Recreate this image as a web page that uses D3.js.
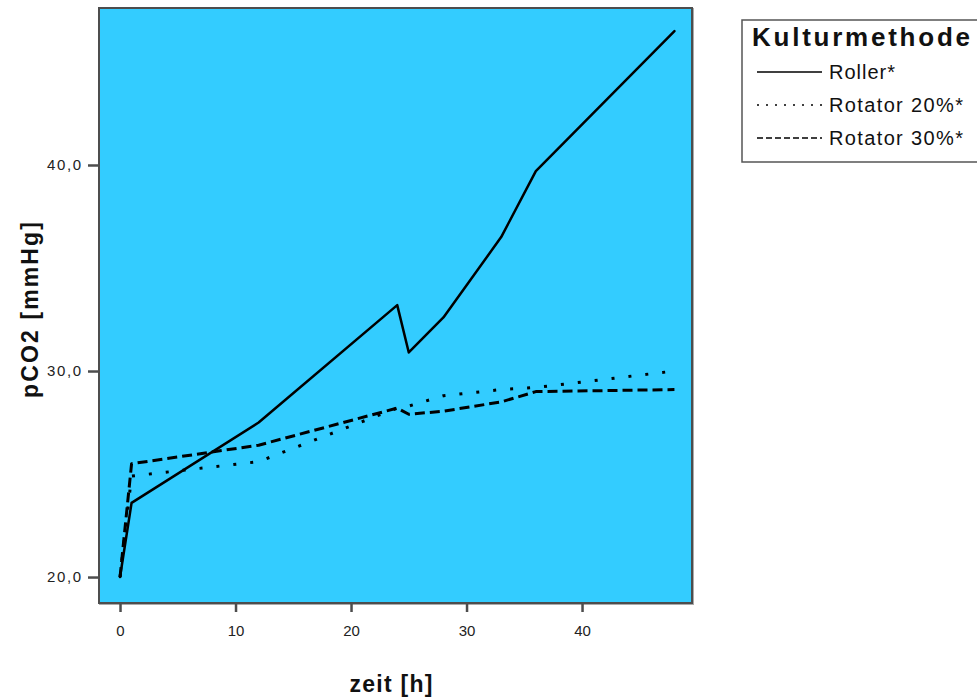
<!DOCTYPE html>
<html><head><meta charset="utf-8">
<script src="https://cdn.jsdelivr.net/npm/d3@7"></script>
<style>
html,body{margin:0;padding:0;background:#fff;}
svg{display:block;}
text{font-family:Arial,"Liberation Sans",sans-serif;}
</style></head>
<body>
<svg id="c" width="977" height="700"></svg>
<script>
const times = [0, 1, 12, 24, 25, 28, 33, 36, 48];
const roller = [20.0, 23.6, 27.5, 33.2, 30.9, 32.6, 36.5, 39.7, 46.5];
const rotator20 = [20.0, 24.9, 25.6, 28.2, 28.3, 28.8, 29.1, 29.2, 30.0];
const rotator30 = [20.0, 25.5, 26.4, 28.2, 27.9, 28.05, 28.5, 29.0, 29.1];
const seriesNames = ["Roller*", "Rotator 20%*", "Rotator 30%*"];
const xTicks = [0, 10, 20, 30, 40];
const yTicks = [20, 30, 40];
const legendTitle = "Kulturmethode";
const xTitle = "zeit [h]";
const yTitle = "pCO2 [mmHg]";

const svg = d3.select("#c");
const L = 99, R = 692, T = 8, B = 603;
const x = d3.scaleLinear().domain([-1.82, 49.52]).range([L, R]);
const y = d3.scaleLinear().domain([18.74, 47.62]).range([B, T]);

// plot background + frame
svg.append("rect").attr("x", L + 1).attr("y", T + 1).attr("width", R - L).attr("height", B - T)
  .attr("fill", "none").attr("stroke", "#aaa").attr("stroke-width", 2);
svg.append("rect").attr("x", L).attr("y", T).attr("width", R - L).attr("height", B - T)
  .attr("fill", "#33CCFF").attr("stroke", "#4d4d4d").attr("stroke-width", 2);

// axes
const fmt = d => d3.format(".1f")(d).replace(".", ",");
const xAxis = d3.axisBottom(x).tickValues(xTicks).tickSize(8).tickPadding(13).tickFormat(d3.format("d"));
const gx = svg.append("g").attr("transform", `translate(0,${B + 1})`).call(xAxis);
gx.select(".domain").remove();
gx.selectAll(".tick line").attr("stroke", "#4d4d4d").attr("stroke-width", 2.5);
gx.selectAll(".tick text").attr("font-size", 15).attr("fill", "#222");

const yAxis = d3.axisLeft(y).tickValues(yTicks).tickSize(10).tickPadding(7).tickFormat(fmt);
const gy = svg.append("g").attr("transform", `translate(${L - 1},0)`).call(yAxis);
gy.select(".domain").remove();
gy.selectAll(".tick line").attr("stroke", "#4d4d4d").attr("stroke-width", 2.5);
gy.selectAll(".tick text").attr("font-size", 15).attr("fill", "#222")
  .attr("textLength", 34).attr("lengthAdjust", "spacing");

// axis titles
svg.append("text").attr("x", 391).attr("y", 692).attr("text-anchor", "middle")
  .attr("font-size", 23).attr("font-weight", "bold").attr("fill", "#111")
  .attr("textLength", 83).attr("lengthAdjust", "spacing").text(xTitle);
svg.append("text").attr("transform", "translate(38,310) rotate(-90)").attr("text-anchor", "middle")
  .attr("font-size", 23).attr("font-weight", "bold").attr("fill", "#111")
  .attr("textLength", 176).attr("lengthAdjust", "spacing").text(yTitle);

// lines
const line = d3.line().x(d => x(d[0])).y(d => y(d[1]));
const styles = [
  {w: 2.5, dash: null, cap: "round"},
  {w: 3, dash: "3,14", cap: "butt"},
  {w: 3, dash: "10,5", cap: "butt"}
];
const data = [roller, rotator20, rotator30];
svg.append("clipPath").attr("id", "pc").append("rect")
  .attr("x", L + 1).attr("y", T + 1).attr("width", R - L - 2).attr("height", B - T - 2);
const gl = svg.append("g").attr("clip-path", "url(#pc)");
data.forEach((vals, i) => {
  const pts = times.map((t, j) => [t, vals[j]]);
  gl.append("path").datum(pts).attr("d", line).attr("fill", "none")
    .attr("stroke", "#000").attr("stroke-width", styles[i].w)
    .attr("stroke-linejoin", "round").attr("stroke-linecap", styles[i].cap)
    .attr("stroke-dasharray", styles[i].dash);
});

// legend
const lg = svg.append("g");
lg.append("rect").attr("x", 742).attr("y", 20).attr("width", 250).attr("height", 142)
  .attr("fill", "#fff").attr("stroke", "#555").attr("stroke-width", 1.5);
lg.append("text").attr("x", 752).attr("y", 46).attr("font-size", 26).attr("font-weight", "bold")
  .attr("fill", "#111").attr("textLength", 218).attr("lengthAdjust", "spacing").text(legendTitle);
const legDash = [null, "2,7", "6,3"];
const legLen = [66, 134, 134];
seriesNames.forEach((n, i) => {
  const yy = 72 + i * 33;
  lg.append("line").attr("x1", 757).attr("x2", 822).attr("y1", yy).attr("y2", yy)
    .attr("stroke", "#000").attr("stroke-width", 1.5).attr("stroke-dasharray", legDash[i]);
  lg.append("text").attr("x", 829).attr("y", yy + 7).attr("font-size", 20).attr("fill", "#111")
    .attr("textLength", legLen[i]).attr("lengthAdjust", "spacing").text(n);
});
</script>
</body></html>
